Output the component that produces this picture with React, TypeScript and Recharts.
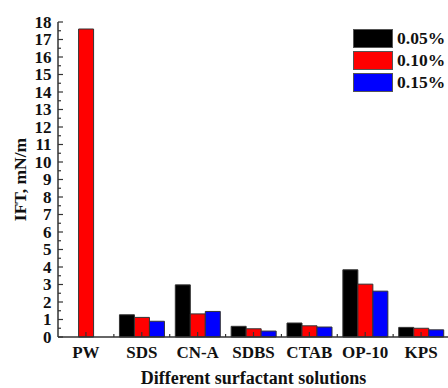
import { BarChart, Bar, XAxis, YAxis, Legend } from 'recharts';

const categories = ['PW', 'SDS', 'CN-A', 'SDBS', 'CTAB', 'OP-10', 'KPS'];
const ift005 = [null, 1.27, 2.98, 0.61, 0.8, 3.84, 0.55];
const ift010 = [17.6, 1.12, 1.32, 0.47, 0.64, 3.02, 0.5];
const ift015 = [null, 0.9, 1.46, 0.34, 0.57, 2.62, 0.41];
const majorTicks = [0, 1, 2, 3, 4, 5, 6, 7, 8, 9, 10, 11, 12, 13, 14, 15, 16, 17, 18];

const series = [
    { key: 'c005', name: '0.05%', color: '#000000' },
    { key: 'c010', name: '0.10%', color: '#ff0000' },
    { key: 'c015', name: '0.15%', color: '#0000ff' },
];

const data = categories.map((name, i) => ({
    name,
    c005: ift005[i],
    c010: ift010[i],
    c015: ift015[i],
}));

// half-unit minor ticks between the labelled ones
const yTicks = [...majorTicks, ...majorTicks.slice(0, -1).map(v => v + 0.5)].sort((a, b) => a - b);

const FONT = '"Liberation Serif", "Times New Roman", serif';
const AXIS = '#333';
const STEP = (449 - 58) / categories.length;

function YTick(props: any) {
    const { x, y, payload } = props;
    const major = Number.isInteger(payload.value);
    return (
        <g>
            <line x1={x} x2={x + (major ? 5 : 3)} y1={y} y2={y} stroke={AXIS} strokeWidth={1.2} />
            {major && (
                <text x={x - 6.5} y={y} dy="0.35em" textAnchor="end" fontFamily={FONT} fontWeight="bold" fontSize={17} fill="#111">
                    {payload.value}
                </text>
            )}
        </g>
    );
}

function XTick(props: any) {
    const { x, y, payload, index } = props;
    return (
        <g>
            <line x1={x} x2={x} y1={y} y2={y - 5} stroke={AXIS} strokeWidth={1.2} />
            {index < categories.length - 1 && (
                <line x1={x + STEP / 2} x2={x + STEP / 2} y1={y} y2={y - 3} stroke={AXIS} strokeWidth={1.2} />
            )}
            <text x={x} y={y + 21} textAnchor="middle" fontFamily={FONT} fontWeight="bold" fontSize={17} fill="#111">
                {payload.value}
            </text>
        </g>
    );
}

function LegendBox() {
    return (
        <div>
            {series.map(s => (
                <div key={s.key} style={{ display: 'flex', alignItems: 'center', height: 22 }}>
                    <span style={{ width: 40, height: 19, background: s.color, border: '1px solid #555', boxSizing: 'border-box' }} />
                    <span style={{ marginLeft: 4, fontFamily: FONT, fontWeight: 'bold', fontSize: 17.5, color: '#111' }}>{s.name}</span>
                </div>
            ))}
        </div>
    );
}

export default function App() {
    return (
        <div style={{ position: 'fixed', left: 0, top: 0, width: 448, height: 388, overflow: 'hidden', background: '#fff' }}>
            <BarChart width={452} height={388} data={data} margin={{ top: 22, right: 0, bottom: 0, left: 0 }}
                barCategoryGap="10%" barGap={0}>
                {series.map(s => (
                    <Bar key={s.key} dataKey={s.key} name={s.name} fill={s.color} stroke="#333" strokeWidth={1}
                        isAnimationActive={false} />
                ))}
                <XAxis dataKey="name" height={51} tickSize={0} tickMargin={0} tick={<XTick />} tickLine={false}
                    axisLine={{ stroke: AXIS, strokeWidth: 1.5 }} interval={0}
                    label={{ value: 'Different surfactant solutions', position: 'insideBottom', offset: 4,
                        style: { fontFamily: FONT, fontWeight: 'bold', fontSize: 18, fill: '#111' } }} />
                <XAxis xAxisId="top" dataKey="name" orientation="top" height={0} tick={false} tickLine={false}
                    axisLine={{ stroke: AXIS, strokeWidth: 1.5 }} />
                <YAxis width={58} domain={[0, 18]} ticks={yTicks} interval={0} tickSize={0} tickMargin={0}
                    tick={<YTick />} tickLine={false} axisLine={{ stroke: AXIS, strokeWidth: 1.5 }}
                    label={{ value: 'IFT, mN/m', angle: -90, position: 'insideLeft', offset: 20,
                        style: { textAnchor: 'middle', fontFamily: FONT, fontWeight: 'bold', fontSize: 17.5, fill: '#111' } }} />
                <YAxis yAxisId="right" orientation="right" width={3} tick={false} tickLine={false}
                    axisLine={{ stroke: AXIS, strokeWidth: 1.5 }} />
                <Legend content={<LegendBox />} layout="horizontal" verticalAlign="middle" align="center"
                    wrapperStyle={{ position: 'absolute', left: 353, top: 27, width: 100 }} />
            </BarChart>
        </div>
    );
}
